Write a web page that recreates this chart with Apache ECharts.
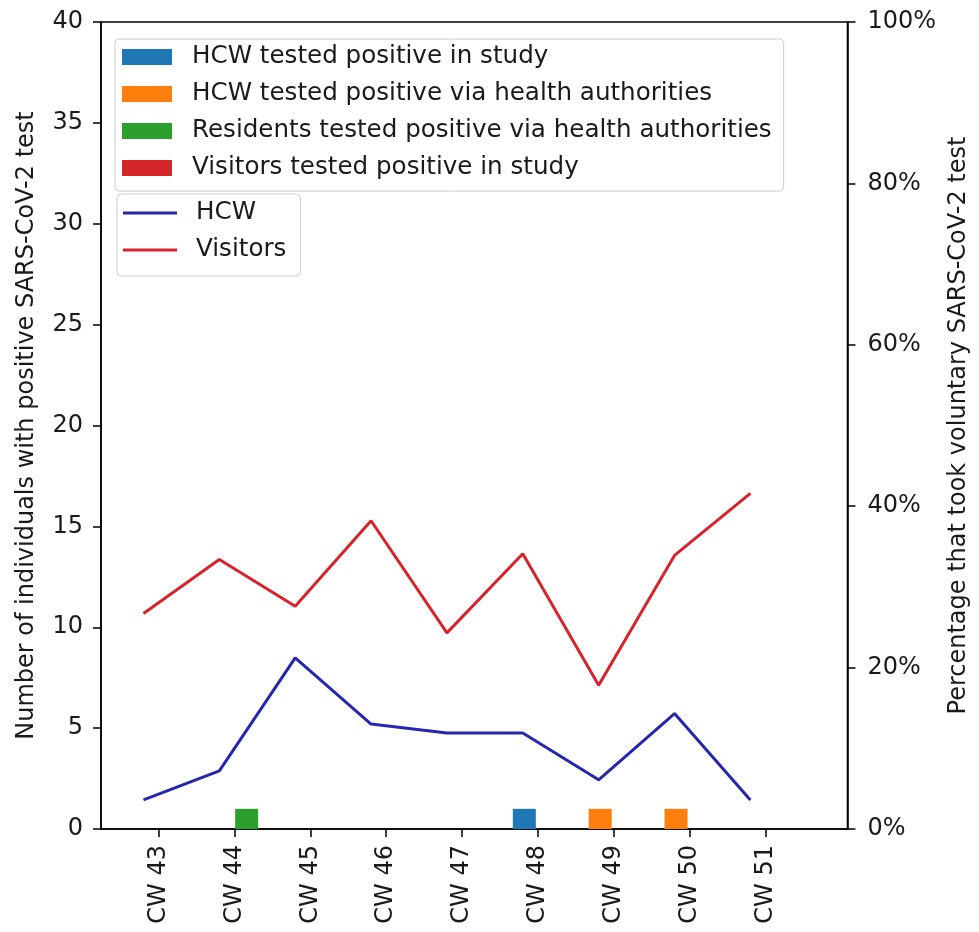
<!DOCTYPE html>
<html>
<head>
<meta charset="utf-8">
<title>Positive tests and voluntary testing by calendar week</title>
<script src="https://cdn.jsdelivr.net/npm/echarts@6/dist/echarts.min.js"></script>
<style>
    html, body { margin: 0; padding: 0; background: #fff; }
    #chart { width: 979px; height: 932px; }
</style>
</head>
<body>
<div id="chart"></div>
<script>
// calendar weeks on the x axis
var weeks = [43, 44, 45, 46, 47, 48, 49, 50, 51];

// number of individuals with a positive test (left axis)
var hcwStudyPos = [0, 0, 0, 0, 0, 1, 0, 0, 0];
var hcwAuthorityPos = [0, 0, 0, 0, 0, 0, 1, 1, 0];
var residentsAuthorityPos = [0, 1, 0, 0, 0, 0, 0, 0, 0];
var visitorsStudyPos = [0, 0, 0, 0, 0, 0, 0, 0, 0];

// percentage that took a voluntary test (right axis)
var hcwTestedPct = [3.6, 7.2, 21.2, 13.0, 11.9, 11.9, 6.1, 14.3, 3.6];
var visitorsTestedPct = [26.7, 33.4, 27.6, 38.2, 24.3, 34.1, 17.8, 33.9, 41.6];

var barNames = [
    'HCW tested positive in study',
    'HCW tested positive via health authorities',
    'Residents tested positive via health authorities',
    'Visitors tested positive in study'
];
var lineNames = ['HCW', 'Visitors'];

// shift of the line points relative to the week tick (in weeks)
var lineShift = -0.2;

var font = 'DejaVu Sans';
var ink = '#1a1a1a';

function barPoints(values, shift) {
    var out = [];
    for (var i = 0; i < weeks.length; i++) {
        if (values[i] > 0) out.push([weeks[i] + shift, values[i]]);
    }
    return out;
}

function linePoints(values) {
    return weeks.map(function (w, i) { return [w + lineShift, values[i]]; });
}

function barSeries(name, values, shift, color) {
    return {
        name: name,
        type: 'bar',
        xAxisIndex: 0,
        yAxisIndex: 0,
        barWidth: 23,
        barGap: '-100%',
        itemStyle: { color: color },
        data: barPoints(values, shift)
    };
}

function lineSeries(name, values, color) {
    return {
        name: name,
        type: 'line',
        yAxisIndex: 1,
        symbol: 'none',
        lineStyle: { color: color, width: 3 },
        itemStyle: { color: color },
        z: 3,
        data: linePoints(values)
    };
}

var legendText = {
    fontFamily: font,
    fontSize: 24.6,
    color: ink,
    lineHeight: 28
};

var myChart = echarts.init(document.getElementById('chart'), null, { renderer: 'canvas' });

var option = {
    animation: false,
    backgroundColor: '#fff',
    textStyle: { fontFamily: font },
    grid: {
        left: 101,
        right: 126,
        top: 22,
        bottom: 103,
        show: true,
        borderColor: '#000',
        borderWidth: 1.5,
        backgroundColor: 'transparent'
    },
    legend: [
        {
            data: barNames,
            orient: 'vertical',
            left: 115,
            top: 39,
            icon: 'rect',
            itemWidth: 50,
            itemHeight: 16,
            itemGap: 9,
            padding: [4, 12, 9, 7],
            borderColor: '#cccccc',
            borderWidth: 1,
            borderRadius: 4,
            backgroundColor: 'rgba(255,255,255,0.8)',
            selectedMode: false,
            textStyle: Object.assign({ padding: [0, 0, 0, 15] }, legendText)
        },
        {
            data: lineNames,
            orient: 'vertical',
            left: 117,
            top: 194,
            icon: 'rect',
            itemWidth: 54,
            itemHeight: 3,
            itemGap: 9,
            padding: [5, 14, 12, 6],
            borderColor: '#cccccc',
            borderWidth: 1,
            borderRadius: 4,
            backgroundColor: 'rgba(255,255,255,0.8)',
            selectedMode: false,
            textStyle: Object.assign({ padding: [0, 0, 0, 14] }, legendText)
        }
    ],
    xAxis: {
        type: 'value',
        min: 42.24,
        max: 52.08,
        splitLine: { show: false },
        axisLine: { show: true, onZero: false, lineStyle: { color: '#000', width: 1.5 } },
        axisTick: {
            show: true,
            customValues: weeks,
            length: 8,
            lineStyle: { color: '#000', width: 1.5 }
        },
        axisLabel: {
            customValues: weeks,
            rotate: 90,
            margin: 16,
            fontSize: 24,
            color: ink,
            formatter: function (v) { return 'CW ' + v; }
        }
    },
    yAxis: [
        {
            type: 'value',
            position: 'left',
            min: 0,
            max: 40,
            interval: 5,
            splitLine: { show: false },
            axisLine: { show: true, lineStyle: { color: '#000', width: 1.5 } },
            axisTick: { show: true, length: 8, lineStyle: { color: '#000', width: 1.5 } },
            axisLabel: { fontSize: 24, color: ink, margin: 18 },
            name: 'Number of individuals with positive SARS-CoV-2 test',
            nameLocation: 'middle',
            nameRotate: 90,
            nameGap: 62,
            nameTextStyle: { fontSize: 24, color: ink }
        },
        {
            type: 'value',
            position: 'right',
            min: 0,
            max: 100,
            interval: 20,
            splitLine: { show: false },
            axisLine: { show: true, lineStyle: { color: '#000', width: 1.5 } },
            axisTick: { show: true, length: 8, lineStyle: { color: '#000', width: 1.5 } },
            axisLabel: { fontSize: 24, color: ink, margin: 20, formatter: '{value}%' },
            name: 'Percentage that took voluntary SARS-CoV-2 test',
            nameLocation: 'middle',
            nameRotate: 90,
            nameGap: 94,
            nameTextStyle: { fontSize: 24, color: ink }
        }
    ],
    series: [
        barSeries(barNames[0], hcwStudyPos, -0.18, '#1f77b4'),
        barSeries(barNames[1], hcwAuthorityPos, -0.18, '#ff7f0e'),
        barSeries(barNames[2], residentsAuthorityPos, 0.16, '#2ca02c'),
        barSeries(barNames[3], visitorsStudyPos, 0.16, '#d62728'),
        lineSeries(lineNames[0], hcwTestedPct, '#2626ae'),
        lineSeries(lineNames[1], visitorsTestedPct, '#d8232c')
    ]
};

myChart.setOption(option);
</script>
</body>
</html>
